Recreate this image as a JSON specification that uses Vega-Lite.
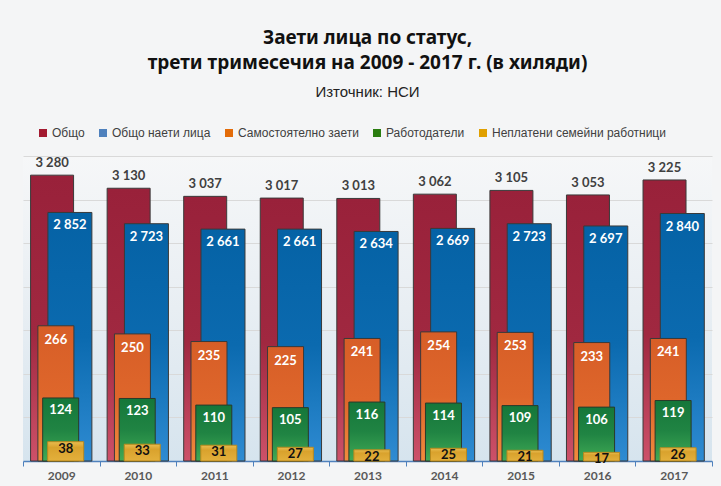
{
  "$schema": "https://vega.github.io/schema/vega-lite/v6.json",
  "width": 689,
  "height": 305,
  "autosize": "none",
  "padding": {"left": 23, "top": 156, "right": 9, "bottom": 25},
  "background": "#F4F5F6",
  "title": {
    "text": ["Заети лица по статус,", "трети тримесечия на 2009 - 2017 г. (в хиляди)"],
    "subtitle": "Източник: НСИ",
    "anchor": "middle",
    "frame": "group",
    "font": "Noto Sans",
    "fontSize": 19,
    "fontWeight": "bold",
    "color": "#111111",
    "lineHeight": 25,
    "subtitleFont": "Liberation Sans",
    "subtitleFontSize": 15,
    "subtitleColor": "#222222",
    "subtitlePadding": 12,
    "offset": 27
  },
  "config": {
    "locale": {"number": {"decimal": ",", "thousands": " ", "grouping": [3], "currency": ["", ""]}},
    "view": {
      "stroke": null,
      "fill": {"gradient": "linear", "x1": 0, "y1": 0, "x2": 0, "y2": 1,
        "stops": [{"offset": 0, "color": "#F6F7F8"}, {"offset": 0.5, "color": "#E8EEF3"}, {"offset": 1, "color": "#D6E4EE"}]}
    },
    "axisX": {
      "title": null, "labelAngle": 0, "labelFont": "Lato", "labelFontWeight": "bold", "labelFontSize": 12,
      "labelColor": "#595959", "labelPadding": 4, "domainColor": "#4F81BD", "domainWidth": 1.5,
      "tickColor": "#4F81BD", "tickSize": 5, "tickBand": "extent", "grid": false
    }
  },
  "data": {"values": [
    {"year": "2009", "total": 3280, "employees": 2852, "self": 266, "employers": 124, "unpaid": 38},
    {"year": "2010", "total": 3130, "employees": 2723, "self": 250, "employers": 123, "unpaid": 33},
    {"year": "2011", "total": 3037, "employees": 2661, "self": 235, "employers": 110, "unpaid": 31},
    {"year": "2012", "total": 3017, "employees": 2661, "self": 225, "employers": 105, "unpaid": 27},
    {"year": "2013", "total": 3013, "employees": 2634, "self": 241, "employers": 116, "unpaid": 22},
    {"year": "2014", "total": 3062, "employees": 2669, "self": 254, "employers": 114, "unpaid": 25},
    {"year": "2015", "total": 3105, "employees": 2723, "self": 253, "employers": 109, "unpaid": 21},
    {"year": "2016", "total": 3053, "employees": 2697, "self": 233, "employers": 106, "unpaid": 17},
    {"year": "2017", "total": 3225, "employees": 2840, "self": 241, "employers": 119, "unpaid": 26}
  ]},
  "encoding": {
    "x": {"field": "year", "type": "ordinal", "scale": {"paddingInner": 0, "paddingOuter": 0}, "axis": {}}
  },
  "layer": [
    {
      "mark": {"type": "bar", "width": 43, "xOffset": -9.2, "stroke": "#3A3A3A", "strokeWidth": 1,
        "fill": {"gradient": "linear", "x1": 0, "y1": 0, "x2": 0, "y2": 1,
          "stops": [{"offset": 0, "color": "#99213A"}, {"offset": 0.55, "color": "#A02840"}, {"offset": 1, "color": "#CD5169"}]}},
      "encoding": {
        "y": {"field": "total", "type": "quantitative", "scale": {"domain": [0, 3500]},
          "axis": {"title": null, "labels": false, "ticks": false, "domain": false, "grid": true, "gridColor": "#D9D9D9",
            "values": [500, 1000, 1500, 2000, 2500, 3000, 3500]}},
        "color": {"datum": "Общо", "type": "nominal",
          "scale": {"domain": ["Общо", "Общо наети лица", "Самостоятелно заети", "Работодатели", "Неплатени семейни работници"],
            "range": ["#A31A30", "#4F81BD", "#E36C09", "#2A7D10", "#E0A000"]},
          "legend": {"title": null, "orient": "none", "legendX": 14, "legendY": -29, "direction": "horizontal",
            "symbolType": "square", "symbolSize": 64, "symbolStrokeWidth": 0, "labelFont": "Liberation Sans", "labelFontSize": 12,
            "labelColor": "#404040", "columnPadding": 12, "labelOffset": 3, "labelLimit": 0}}
      }
    },
    {
      "mark": {"type": "bar", "width": 44, "xOffset": 8.6, "stroke": "#3A3A3A", "strokeWidth": 1,
        "fill": {"gradient": "linear", "x1": 0, "y1": 0, "x2": 0, "y2": 1,
          "stops": [{"offset": 0, "color": "#0562A5"}, {"offset": 0.5, "color": "#0B6AAF"}, {"offset": 1, "color": "#2E8BD2"}]}},
      "encoding": {
        "y": {"field": "employees", "type": "quantitative", "scale": {"domain": [0, 3500]}, "axis": null},
        "color": {"datum": "Общо наети лица", "type": "nominal"}
      }
    },
    {
      "mark": {"type": "bar", "width": 36, "xOffset": -5.4, "stroke": "#3A3A3A", "strokeWidth": 1,
        "fill": {"gradient": "linear", "x1": 0, "y1": 0, "x2": 0, "y2": 1,
          "stops": [{"offset": 0, "color": "#D75E27"}, {"offset": 0.5, "color": "#DE662B"}, {"offset": 1, "color": "#F28B3D"}]}},
      "encoding": {
        "y": {"field": "self", "type": "quantitative", "scale": {"domain": [0, 600]}, "axis": null},
        "color": {"datum": "Самостоятелно заети", "type": "nominal"}
      }
    },
    {
      "mark": {"type": "bar", "width": 36, "xOffset": -0.6, "stroke": "#2A3A2A", "strokeWidth": 1,
        "fill": {"gradient": "linear", "x1": 0, "y1": 0, "x2": 0, "y2": 1,
          "stops": [{"offset": 0, "color": "#15773A"}, {"offset": 0.5, "color": "#208443"}, {"offset": 1, "color": "#40AA55"}]}},
      "encoding": {
        "y": {"field": "employers", "type": "quantitative", "scale": {"domain": [0, 600]}, "axis": null},
        "color": {"datum": "Работодатели", "type": "nominal"}
      }
    },
    {
      "mark": {"type": "bar", "width": 36, "xOffset": 4.4, "stroke": "#B8891E", "strokeWidth": 1,
        "fill": {"gradient": "linear", "x1": 0, "y1": 0, "x2": 0, "y2": 1,
          "stops": [{"offset": 0, "color": "#E9BC50"}, {"offset": 0.3, "color": "#D9A22D"}, {"offset": 1, "color": "#E3B03C"}]}},
      "encoding": {
        "y": {"field": "unpaid", "type": "quantitative", "scale": {"domain": [0, 600]}, "axis": null},
        "color": {"datum": "Неплатени семейни работници", "type": "nominal"}
      }
    },
    {
      "mark": {"type": "text", "xOffset": -9.2, "dy": -12, "baseline": "middle", "font": "Lato", "fontWeight": "bold", "fontSize": 13, "color": "#404040"},
      "encoding": {
        "y": {"field": "total", "type": "quantitative", "scale": {"domain": [0, 3500]}, "axis": null},
        "text": {"field": "total", "type": "quantitative", "format": ",d"}
      }
    },
    {
      "mark": {"type": "text", "xOffset": 8.6, "dy": 13, "baseline": "middle", "font": "Lato", "fontWeight": "bold", "fontSize": 13, "color": "#FFFFFF"},
      "encoding": {
        "y": {"field": "employees", "type": "quantitative", "scale": {"domain": [0, 3500]}, "axis": null},
        "text": {"field": "employees", "type": "quantitative", "format": ",d"}
      }
    },
    {
      "mark": {"type": "text", "xOffset": -5.4, "dy": 14, "baseline": "middle", "font": "Lato", "fontWeight": "bold", "fontSize": 13, "color": "#FFFFFF"},
      "encoding": {
        "y": {"field": "self", "type": "quantitative", "scale": {"domain": [0, 600]}, "axis": null},
        "text": {"field": "self", "type": "quantitative", "format": ",d"}
      }
    },
    {
      "mark": {"type": "text", "xOffset": -0.6, "dy": 12.5, "baseline": "middle", "font": "Lato", "fontWeight": "bold", "fontSize": 13, "color": "#FFFFFF"},
      "encoding": {
        "y": {"field": "employers", "type": "quantitative", "scale": {"domain": [0, 600]}, "axis": null},
        "text": {"field": "employers", "type": "quantitative", "format": ",d"}
      }
    },
    {
      "mark": {"type": "text", "xOffset": 4.4, "dy": 7, "baseline": "middle", "font": "Lato", "fontWeight": "bold", "fontSize": 13, "color": "#111111"},
      "encoding": {
        "y": {"field": "unpaid", "type": "quantitative", "scale": {"domain": [0, 600]}, "axis": null},
        "text": {"field": "unpaid", "type": "quantitative", "format": ",d"}
      }
    }
  ],
  "resolve": {"scale": {"y": "independent"}}
}
